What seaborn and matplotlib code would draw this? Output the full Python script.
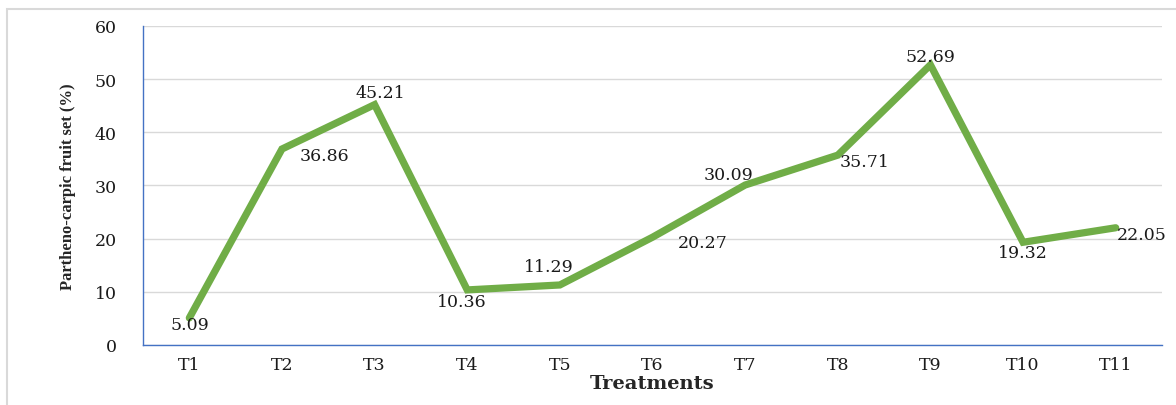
import numpy as np
import pandas as pd
import seaborn as sns
import matplotlib.pyplot as plt
from matplotlib.patches import Rectangle

# === DATOS ===
treatments = ["T1", "T2", "T3", "T4", "T5", "T6", "T7", "T8", "T9", "T10", "T11"]
fruit_set = [5.09, 36.86, 45.21, 10.36, 11.29, 20.27, 30.09, 35.71, 52.69, 19.32, 22.05]

# desplazamiento de cada etiqueta respecto a su punto (px)
label_dx = [1, 42, 6, -5, -11, 50, -17, 27, 0, 0, 26]
label_dy = [-7, -6, 12, -12, 18, -5, 11, -6, 8, -10, -7]

df = pd.DataFrame({"Treatment": treatments, "Value": fruit_set})

# === ESTILO ===
sns.set_theme(style="white")
plt.rcParams["font.family"] = ["DejaVu Serif", "Liberation Serif"]

fig = plt.figure(figsize=(11.76, 4.06), dpi=100)
ax = fig.add_axes([0.1216, 0.1478, 0.8665, 0.7857])

# marco exterior gris
fig.patches.append(Rectangle((7 / 1176, -0.1), 1.2, 1 - 10 / 406 + 0.1,
                             transform=fig.transFigure, fill=False,
                             edgecolor="#d9d9d9", linewidth=1.5))

x = np.arange(len(treatments))
sns.lineplot(x=x, y=df["Value"], ax=ax, color="#70ad47", linewidth=5.2,
             solid_joinstyle="miter", zorder=3)

# etiquetas de datos
for xi, v, dx, dy in zip(x, fruit_set, label_dx, label_dy):
    ax.annotate(f"{v:.2f}", (xi, v), xytext=(dx, dy), textcoords="offset pixels",
                ha="center", va="center", fontsize=12.5, color="#1a1a1a", zorder=4)

ax.set_xlim(-0.5, len(treatments) - 0.5)
ax.set_ylim(0, 60)
ax.set_yticks(range(0, 61, 10))
ax.set_xticks(x)
ax.set_xticklabels(treatments)
ax.set_xticks([len(treatments) - 0.5], minor=True)
ax.yaxis.grid(True, color="#d9d9d9", linewidth=1)
ax.set_axisbelow(True)

for s in ["top", "right"]:
    ax.spines[s].set_visible(False)
for s in ["left", "bottom"]:
    ax.spines[s].set_color("#4472c4")
    ax.spines[s].set_linewidth(1.0)

ax.tick_params(axis="x", which="both", colors="#4472c4", length=3, direction="out",
               width=1, labelcolor="#1a1a1a", labelsize=12.5, pad=5)
ax.tick_params(axis="y", length=0, labelcolor="#1a1a1a", labelsize=12.5, pad=19)

ax.set_xlabel("Treatments", fontsize=14, fontweight="bold", labelpad=1)
ax.set_ylabel("Partheno-carpic fruit set (%)", fontsize=12, fontweight="bold",
              family="Liberation Serif", labelpad=13)

fig.savefig("out.png", dpi=100)
